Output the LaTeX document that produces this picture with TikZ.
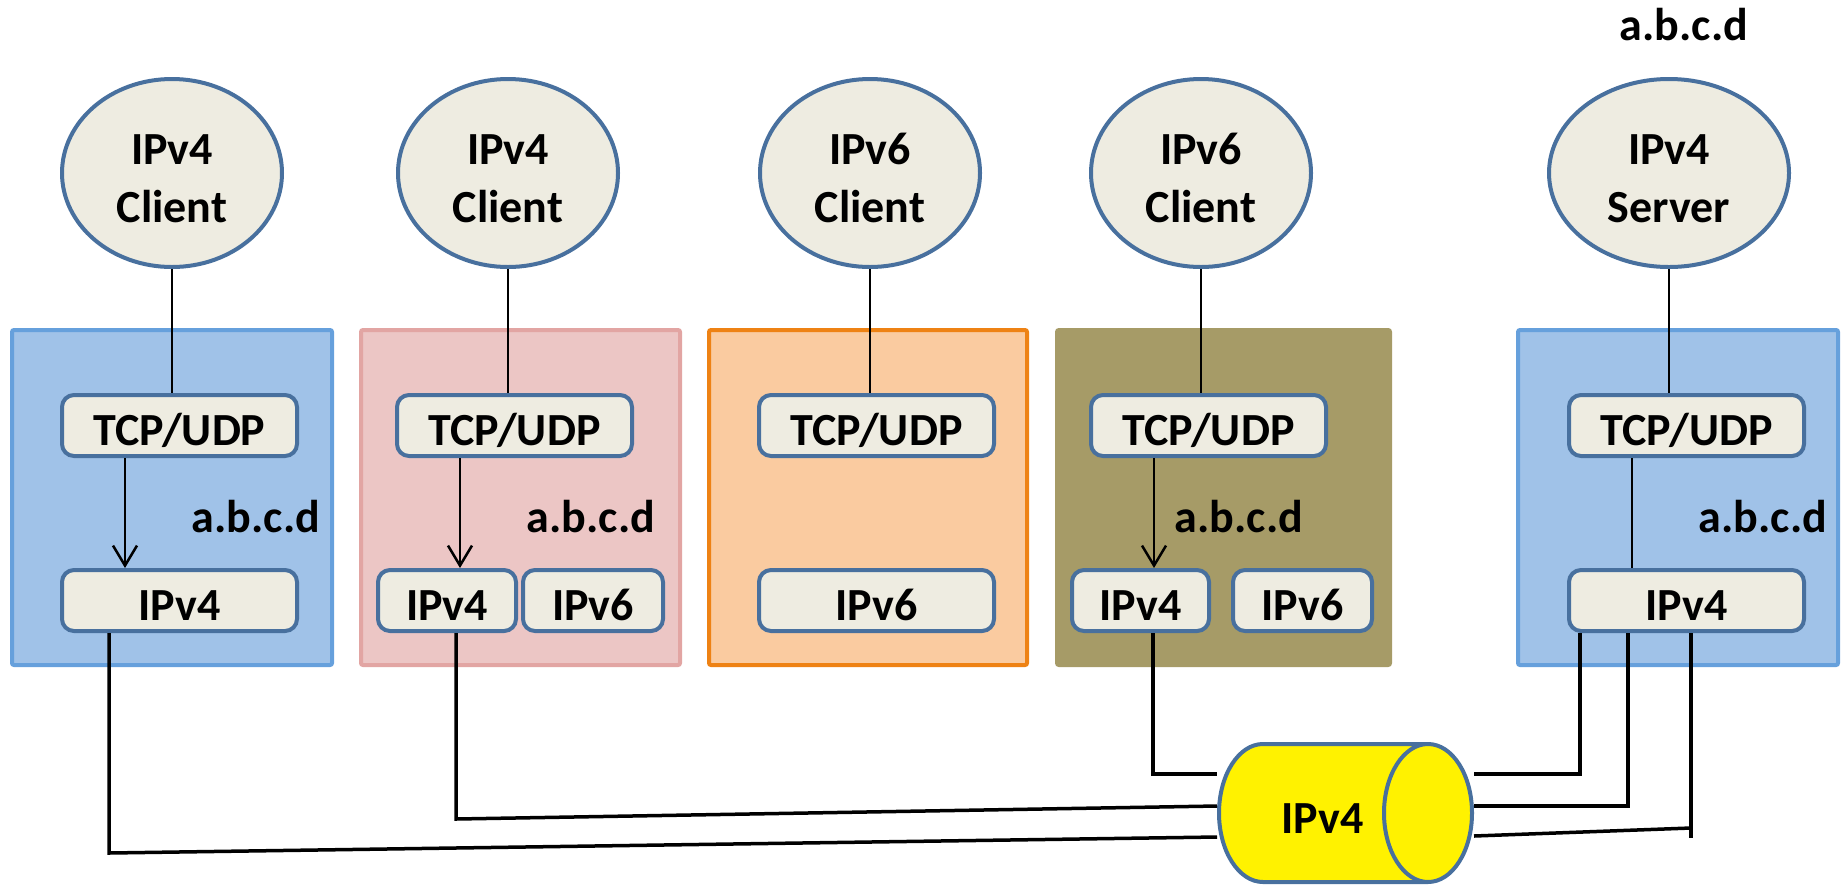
\documentclass[tikz,border=0pt]{standalone}
\usepackage{fontspec}
\setmainfont{Carlito}
\usetikzlibrary{arrows.meta,shapes.geometric}

\definecolor{shapeline}{RGB}{72,112,158}
\definecolor{shapefill}{RGB}{238,236,225}
\definecolor{hostblue}{RGB}{160,194,232}
\definecolor{hostblueline}{RGB}{102,160,220}
\definecolor{hostpink}{RGB}{236,198,197}
\definecolor{hostpinkline}{RGB}{226,165,163}
\definecolor{hostorange}{RGB}{250,203,160}
\definecolor{hostorangeline}{RGB}{238,130,20}
\definecolor{hostolive}{RGB}{166,155,103}

\begin{document}
\begin{tikzpicture}[x=1pt,y=-1pt,>={Straight Barb[length=20pt,width=24pt]},
  font=\fontsize{46}{58}\selectfont\bfseries,
  app/.style={ellipse,draw=shapeline,line width=4pt,fill=shapefill,minimum width=220pt,
    minimum height=188pt,inner sep=0pt,align=center,text height=98pt,text depth=0pt},
  layer/.style={draw=shapeline,line width=4pt,fill=shapefill,rounded corners=12pt,
    minimum height=61pt,inner sep=0pt,text height=40pt,text depth=0pt},
  host/.style={line width=4pt,rounded corners=2pt},
  link/.style={line width=2.5pt},
  wire/.style={line width=3.5pt}]
\useasboundingbox (0,0) rectangle (1843,887);

% hosts
\draw[host,fill=hostblue,draw=hostblueline] (12,330) rectangle (332,665);
\draw[host,fill=hostpink,draw=hostpinkline] (361,330) rectangle (680,665);
\draw[host,fill=hostorange,draw=hostorangeline] (709,330) rectangle (1027,665);
\draw[host,fill=hostolive,draw=hostolive] (1057,330) rectangle (1390,665);
\draw[host,fill=hostblue,draw=hostblueline] (1518,330) rectangle (1838,665);

% applications
\node[app] (c1) at (172,173) {IPv4\\Client};
\node[app] (c2) at (508,173) {IPv4\\Client};
\node[app] (c3) at (870,173) {IPv6\\Client};
\node[app] (c4) at (1201,173) {IPv6\\Client};
\node[app,minimum width=240pt] (srv) at (1669,173) {IPv4\\Server};

% stacks
\node[layer,minimum width=235pt] (c1tcp) at (179.5,425.5) {TCP/UDP};
\node[layer,minimum width=235pt] (c1v4) at (179.5,600.5) {IPv4};
\node[layer,minimum width=235pt] (c2tcp) at (514.5,425.5) {TCP/UDP};
\node[layer,minimum width=138pt] (c2v4) at (447,600.5) {IPv4};
\node[layer,minimum width=140pt] (c2v6) at (593,600.5) {IPv6};
\node[layer,minimum width=235pt] (c3tcp) at (876.5,425.5) {TCP/UDP};
\node[layer,minimum width=235pt] (c3v6) at (876.5,600.5) {IPv6};
\node[layer,minimum width=235pt] (c4tcp) at (1208.5,425.5) {TCP/UDP};
\node[layer,minimum width=137pt] (c4v4) at (1140.5,600.5) {IPv4};
\node[layer,minimum width=139pt] (c4v6) at (1302.5,600.5) {IPv6};
\node[layer,minimum width=235pt] (srvtcp) at (1686.5,425.5) {TCP/UDP};
\node[layer,minimum width=235pt] (srvv4) at (1686.5,600.5) {IPv4};

% addresses
\node[anchor=base] (a1) at (256,532) {a.b.c.d};
\node[anchor=base] (a2) at (591,532) {a.b.c.d};
\node[anchor=base] (a4) at (1239,532) {a.b.c.d};
\node[anchor=base] (a5) at (1763,532) {a.b.c.d};
\node[anchor=base] (asrv) at (1684,40) {a.b.c.d};

% IPv4 network
\node[cylinder,draw=shapeline,line width=4pt,fill=yellow,minimum height=253pt,
  minimum width=138pt,shape aspect=2.2,inner sep=0pt,text height=40pt,
  text depth=0pt,anchor=west] (net) at (1217,813) {IPv4};

% sockets
\draw[link] (c1.south) -- (c1.south |- c1tcp.north);
\draw[link] (c2.south) -- (c2.south |- c2tcp.north);
\draw[link] (c3.south) -- (c3.south |- c3tcp.north);
\draw[link] (c4.south) -- (c4.south |- c4tcp.north);
\draw[link] (srv.south) -- (srv.south |- srvtcp.north);

\draw[link,->] (c1tcp.south -| 125,0) -- (c1v4.north -| 125,0);
\draw[link,->] (c2tcp.south -| 460,0) -- (c2v4.north -| 460,0);
\draw[link,->] (c4tcp.south -| 1154,0) -- (c4v4.north -| 1154,0);
\draw[link] (srvtcp.south -| 1632,0) -- (srvv4.north -| 1632,0);

% cabling
\draw[wire] (c1v4.south -| 109,0) -- (109,853) -- (net.west |- 0,837);
\draw[wire] (c2v4.south -| 456,0) -- (456,819) -- (net.west |- 0,806);
\draw[wire] (c4v4.south -| 1153,0) |- (net.west |- 0,774);
\draw[wire] (net.east |- 0,774) -| (srvv4.south -| 1580,0);
\draw[wire] (net.east |- 0,806) -| (srvv4.south -| 1628,0);
\draw[wire] (net.east |- 0,836) -- (1691,828);
\draw[wire] (srvv4.south -| 1691,0) -- (1691,838);
\end{tikzpicture}
\end{document}
